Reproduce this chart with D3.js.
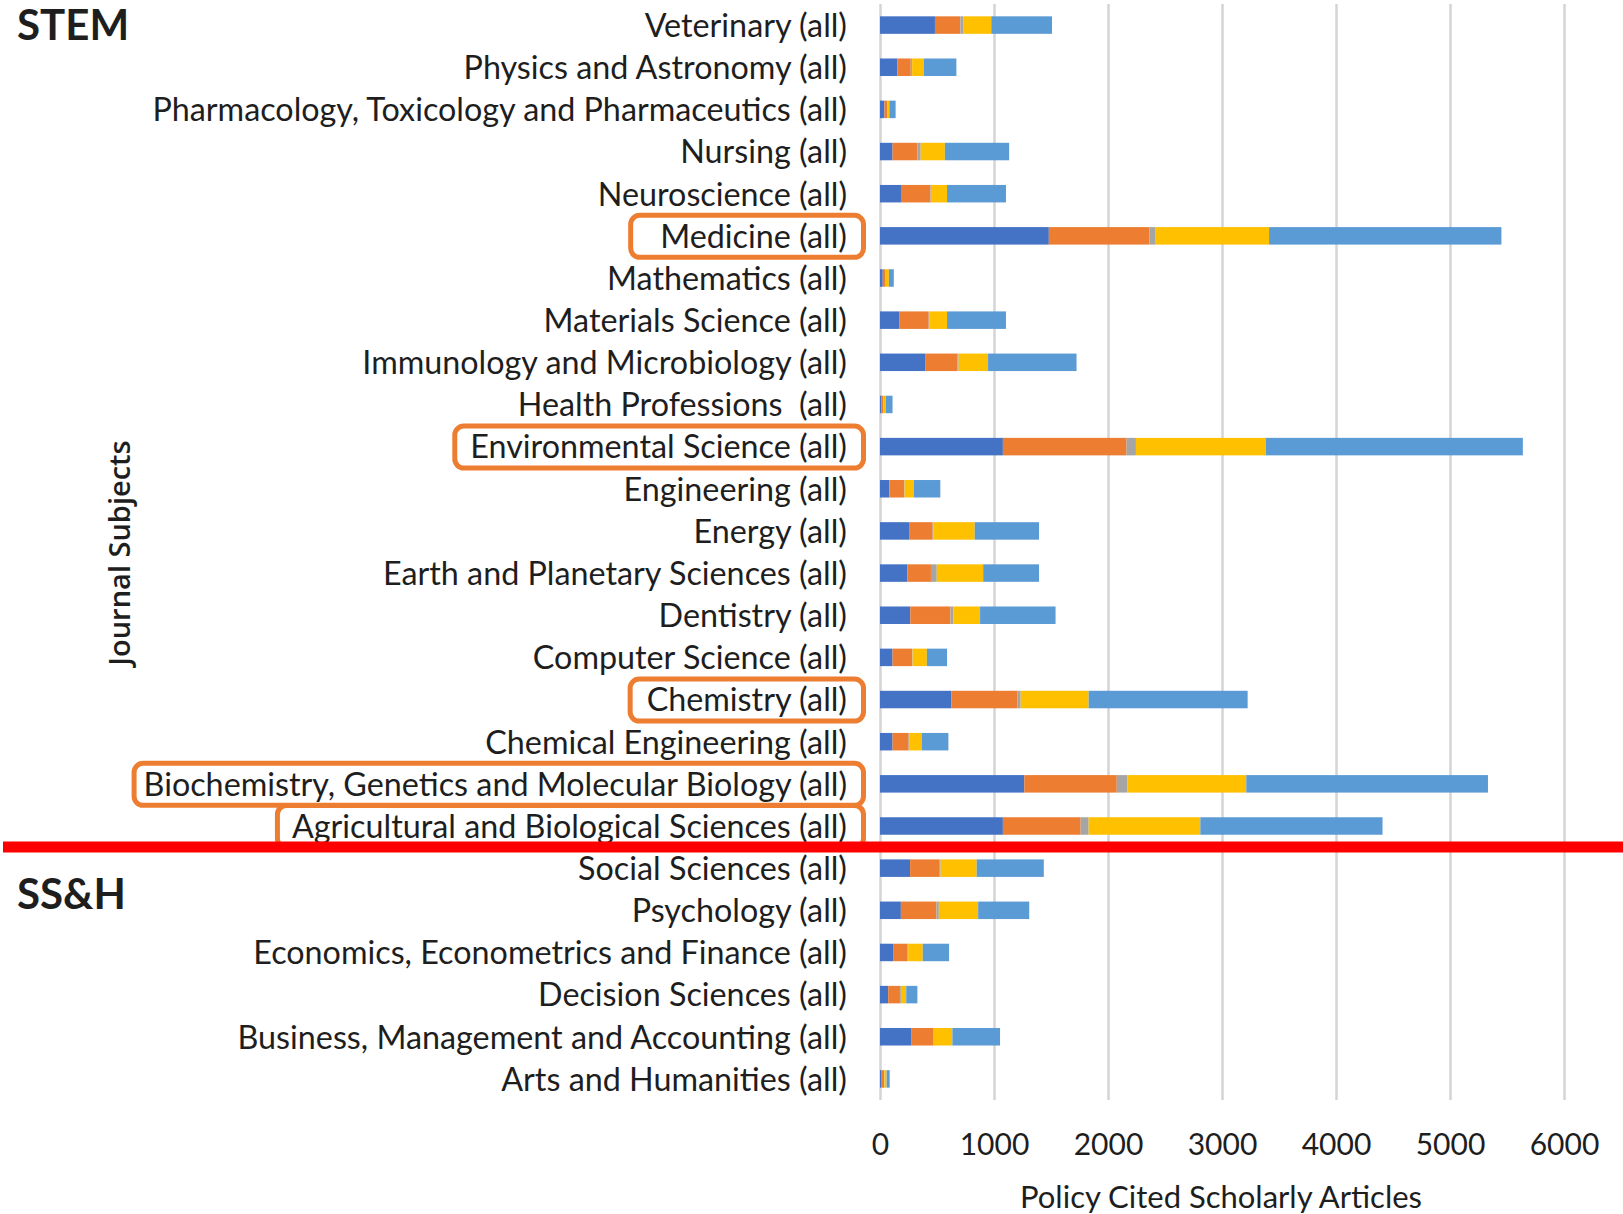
<!DOCTYPE html>
<html><head><meta charset="utf-8">
<script src="https://cdn.jsdelivr.net/npm/d3@7"></script>
<style>
body{margin:0;background:#fff;}
svg text{font-family:Lato,"Liberation Sans",sans-serif;fill:#1e1e1e;}
</style></head>
<body><svg id="chart" width="1623" height="1214"></svg>
<script>
const categories = [
 "Veterinary (all)","Physics and Astronomy (all)","Pharmacology, Toxicology and Pharmaceutics (all)",
 "Nursing (all)","Neuroscience (all)","Medicine (all)","Mathematics (all)","Materials Science (all)",
 "Immunology and Microbiology (all)","Health Professions  (all)","Environmental Science (all)",
 "Engineering (all)","Energy (all)","Earth and Planetary Sciences (all)","Dentistry (all)",
 "Computer Science (all)","Chemistry (all)","Chemical Engineering (all)",
 "Biochemistry, Genetics and Molecular Biology (all)","Agricultural and Biological Sciences (all)",
 "Social Sciences (all)","Psychology (all)","Economics, Econometrics and Finance (all)",
 "Decision Sciences (all)","Business, Management and Accounting (all)","Arts and Humanities (all)"
];
const series1 = [482,153,39,110,184,1481,24,168,400,12,1078,82,255,239,266,110,627,110,1266,1078,264,183,115,72,273,10];
const series2 = [223,117,25,219,259,882,23,259,278,15,1085,130,207,208,353,172,580,141,811,682,260,312,124,103,196,25];
const series3 = [28,12,3,28,4,55,4,4,12,4,82,4,8,51,24,4,27,4,94,70,8,21,8,8,4,3];
const series4 = [243,102,15,212,141,995,27,157,258,20,1141,82,361,407,235,125,596,113,1042,980,316,345,128,47,162,20];
const series5 = [533,286,55,564,517,2038,43,517,776,59,2253,231,564,490,662,177,1395,232,2120,1598,589,448,231,98,418,27];
const seriesNames = ["Series 1","Series 2","Series 3","Series 4","Series 5"];
const seriesColors = ["#4472C4","#ED7D31","#A5A5A5","#FFC000","#5B9BD5"];
const xTicks = [0,1000,2000,3000,4000,5000,6000];
const highlighted = ["Medicine (all)","Environmental Science (all)","Chemistry (all)",
 "Biochemistry, Genetics and Molecular Biology (all)","Agricultural and Biological Sciences (all)"];
const groupLabels = ["STEM","SS&H"];
const dividerAfter = "Agricultural and Biological Sciences (all)";

// layout (not data)
const boxPad = {"Medicine (all)":32,"Environmental Science (all)":18,"Chemistry (all)":19,
 "Biochemistry, Genetics and Molecular Biology (all)":12,"Agricultural and Biological Sciences (all)":17};

const allSeries = [series1,series2,series3,series4,series5];
const rows = categories.map((c,i)=>{const r={cat:c}; seriesNames.forEach((s,j)=>r[s]=allSeries[j][i]); return r;});

const svg = d3.select("#chart");
const x = d3.scaleLinear().domain([0,6000]).range([880,1564]);
const y = d3.scaleBand().domain(categories).range([4,1100]).paddingInner(0.585).paddingOuter(0.2925);
const cy = c => y(c)+y.bandwidth()/2;

// gridlines + tick labels
const gx = svg.append("g").attr("transform","translate(0,1100)")
 .call(d3.axisBottom(x).tickValues(xTicks).tickFormat(d3.format("d")).tickSizeInner(-1096).tickSizeOuter(0).tickPadding(34));
gx.select(".domain").remove();
gx.selectAll(".tick line").attr("stroke","#d4d4d4").attr("stroke-width",2.5);
gx.selectAll(".tick text").attr("font-size",30).style("fill","#1e1e1e");

// stacked bars
const stacked = d3.stack().keys(seriesNames)(rows);
svg.append("g").selectAll("g").data(stacked).join("g")
 .attr("fill",(d,i)=>seriesColors[i])
 .selectAll("rect").data(d=>d).join("rect")
 .attr("x",d=>x(d[0])).attr("width",d=>x(d[1])-x(d[0]))
 .attr("y",d=>y(d.data.cat)).attr("height",y.bandwidth());

// category labels
const gy = svg.append("g").attr("transform","translate(880,1.5)")
 .call(d3.axisLeft(y).tickSize(0).tickPadding(33));
gy.select(".domain").remove();
gy.selectAll(".tick text").attr("font-size",32.3).style("white-space","pre").style("fill","#1e1e1e");

// highlight boxes
gy.selectAll(".tick").each(function(c){
  if(!highlighted.includes(c)) return;
  const bb = this.querySelector("text").getBBox();
  const left = 880 + bb.x - boxPad[c] + 2.5;
  svg.append("rect").attr("x",left).attr("y",cy(c)-20.5).attr("width",863.5-left).attr("height",42)
   .attr("rx",9).attr("fill","none").attr("stroke","#ED7D31").attr("stroke-width",5);
});

// divider
const nextCat = categories[categories.indexOf(dividerAfter)+1];
const divY = (cy(dividerAfter)+cy(nextCat))/2;
svg.append("line").attr("x1",3).attr("x2",1623).attr("y1",divY).attr("y2",divY)
 .attr("stroke","#FF0000").attr("stroke-width",11);

// group labels
svg.append("text").attr("x",17).attr("y",cy(categories[0])).attr("dy","0.36em").attr("font-size",42)
 .attr("font-weight","bold").text(groupLabels[0]);
svg.append("text").attr("x",17).attr("y",(cy(nextCat)+cy(categories[categories.indexOf(nextCat)+1]))/2+5)
 .attr("dy","0.36em").attr("font-size",42).attr("font-weight","bold").text(groupLabels[1]);

// axis titles
svg.append("text").attr("x",1221).attr("y",1197).attr("dy","0.36em").attr("text-anchor","middle")
 .attr("font-size",31).text("Policy Cited Scholarly Articles");
svg.append("text").attr("transform","translate(120,553) rotate(-90)").attr("dy","0.36em")
 .attr("text-anchor","middle").attr("font-size",29).attr("font-weight",600)
 .style("font-family","'Open Sans',sans-serif").text("Journal Subjects");
</script></body></html>
